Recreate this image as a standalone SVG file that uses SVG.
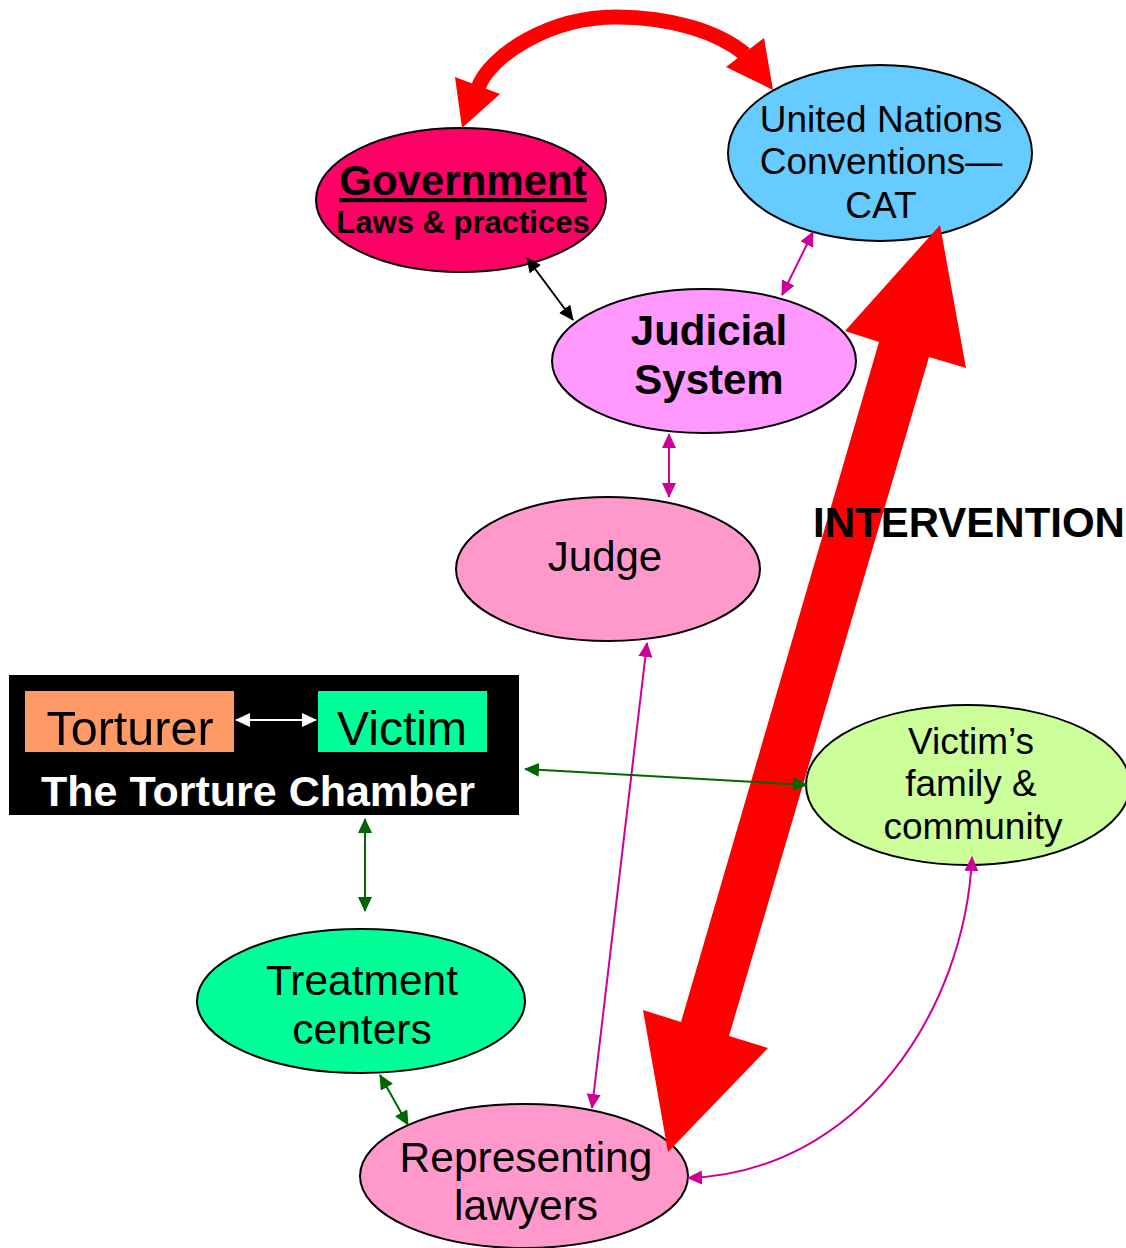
<svg xmlns="http://www.w3.org/2000/svg" width="1126" height="1248" viewBox="0 0 1126 1248">
<style>
.node{stroke:#000;stroke-width:2}
.t{font-family:"Liberation Sans",Arial,sans-serif;text-anchor:middle;fill:#000}
.b{font-weight:bold}
.c{fill:none;stroke-width:2}
</style>
<defs>
<marker id="ak" markerUnits="userSpaceOnUse" markerWidth="16" markerHeight="16" refX="14" refY="7" orient="auto-start-reverse"><path d="M0,0 L15,7 L0,14 z" fill="#000"/></marker>
<marker id="am" markerUnits="userSpaceOnUse" markerWidth="16" markerHeight="16" refX="14" refY="7" orient="auto-start-reverse"><path d="M0,0 L15,7 L0,14 z" fill="#CC0099"/></marker>
<marker id="ag" markerUnits="userSpaceOnUse" markerWidth="16" markerHeight="16" refX="14" refY="7" orient="auto-start-reverse"><path d="M0,0 L15,7 L0,14 z" fill="#006600"/></marker>
<marker id="aw" markerUnits="userSpaceOnUse" markerWidth="16" markerHeight="16" refX="14" refY="7" orient="auto-start-reverse"><path d="M0,0 L15,7 L0,14 z" fill="#fff"/></marker>
</defs>
<rect width="1126" height="1248" fill="#fff"/>

<g id="government">
<ellipse class="node" cx="461" cy="200" rx="145" ry="72" fill="#FF0066"/>
<text class="t b" x="463" y="195" font-size="42" text-decoration="underline">Government</text>
<text class="t b" x="463" y="233" font-size="31">Laws &amp; practices</text>
</g>
<g id="un">
<ellipse class="node" cx="880" cy="153" rx="152" ry="88" fill="#66CCFF"/>
<text class="t" x="881" y="132" font-size="37">United Nations</text>
<text class="t" x="881" y="174" font-size="37">Conventions—</text>
<text class="t" x="881" y="218" font-size="37">CAT</text>
</g>
<g id="judicial">
<ellipse class="node" cx="704" cy="361" rx="152" ry="72" fill="#FF99FF"/>
<text class="t b" x="709" y="345" font-size="42">Judicial</text>
<text class="t b" x="709" y="394" font-size="42">System</text>
</g>
<g id="judge">
<ellipse class="node" cx="608" cy="569" rx="152" ry="72" fill="#FF99CC"/>
<text class="t" x="605" y="571" font-size="42">Judge</text>
</g>
<g id="chamber">
<rect x="9" y="675" width="510" height="140" fill="#000"/>
<rect x="25" y="691" width="209" height="61" fill="#FF9966"/>
<rect x="318" y="691" width="169" height="61" fill="#00FF99"/>
<text class="t" x="130" y="745" font-size="48.5">Torturer</text>
<text class="t" x="402" y="745" font-size="48">Victim</text>
<text class="t b" x="258" y="806" font-size="43" style="fill:#fff">The Torture Chamber</text>
</g>
<g id="family">
<ellipse class="node" cx="968" cy="785" rx="162" ry="80" fill="#CCFF99"/>
<text class="t" x="971" y="754" font-size="37">Victim’s</text>
<text class="t" x="971" y="796" font-size="37">family &amp;</text>
<text class="t" x="973" y="839" font-size="37">community</text>
</g>
<g id="treatment">
<ellipse class="node" cx="361" cy="1001" rx="164" ry="72" fill="#00FF99"/>
<text class="t" x="362" y="995" font-size="42.5">Treatment</text>
<text class="t" x="362" y="1044" font-size="42.5">centers</text>
</g>
<g id="lawyers">
<ellipse class="node" cx="524" cy="1176" rx="164" ry="72" fill="#FF99CC"/>
<text class="t" x="526" y="1172" font-size="42.5">Representing</text>
<text class="t" x="526" y="1220" font-size="42.5">lawyers</text>
</g>

<g id="connectors">
<g id="intervention-arrow" fill="#FF0000">
<polygon points="940,225 966,368 929,357 729,1036 768,1048 668,1152 643,1010 681,1022 879,342 845,331"/>
</g>
<g id="top-arc">
<path d="M478,88 C490,55 550,17 616,17 C672,17 718,32 745,54" fill="none" stroke="#FF0000" stroke-width="15"/>
<polygon points="455,77 500,94 462,128" fill="#FF0000"/>
<polygon points="764,38 726,67 773,90" fill="#FF0000"/>
</g>
<line class="c" x1="527" y1="258" x2="573" y2="320" stroke="#000" marker-start="url(#ak)" marker-end="url(#ak)"/>
<line class="c" x1="813" y1="232" x2="782" y2="295" stroke="#CC0099" marker-start="url(#am)" marker-end="url(#am)"/>
<line class="c" x1="669" y1="434" x2="669" y2="497" stroke="#CC0099" marker-start="url(#am)" marker-end="url(#am)"/>
<line class="c" x1="647" y1="643" x2="592" y2="1108" stroke="#CC0099" stroke-width="1.5" marker-start="url(#am)" marker-end="url(#am)"/>
<line class="c" x1="236" y1="720" x2="316" y2="720" stroke="#fff" marker-start="url(#aw)" marker-end="url(#aw)"/>
<line class="c" x1="525" y1="769" x2="807" y2="785" stroke="#006600" marker-start="url(#ag)" marker-end="url(#ag)"/>
<line class="c" x1="365" y1="819" x2="365" y2="911" stroke="#006600" marker-start="url(#ag)" marker-end="url(#ag)"/>
<line class="c" x1="380" y1="1075" x2="408" y2="1125" stroke="#006600" marker-start="url(#ag)" marker-end="url(#ag)"/>
<path class="c" d="M972,857 C965,1010 860,1172 688,1178" stroke="#CC0099" stroke-width="1.5" marker-start="url(#am)" marker-end="url(#am)"/>
</g>
<text class="t b" x="969" y="537" font-size="42">INTERVENTION</text>
</svg>
